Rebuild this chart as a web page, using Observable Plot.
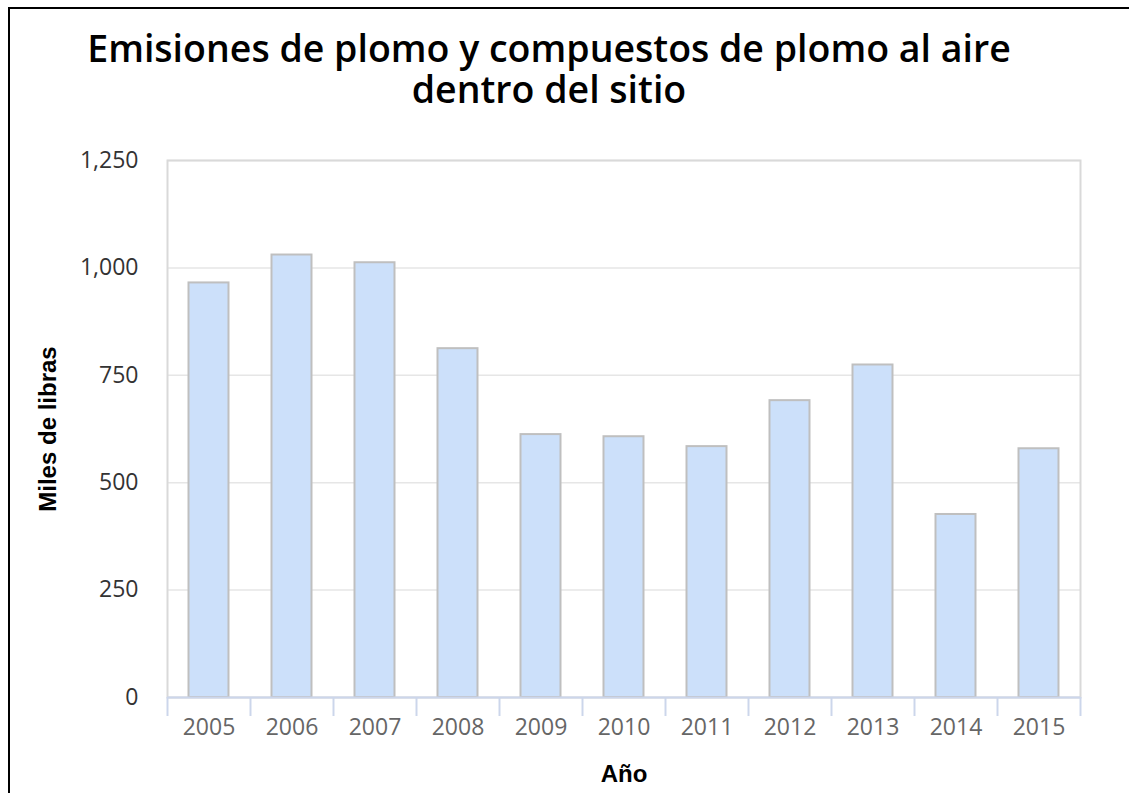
<!DOCTYPE html>
<html>
<head>
<meta charset="utf-8">
<script src="https://cdn.jsdelivr.net/npm/d3@7"></script>
<script src="https://cdn.jsdelivr.net/npm/@observablehq/plot@0.6"></script>
<style>
  html, body { margin: 0; padding: 0; background: #fff; }
  #wrap { position: relative; width: 1129px; height: 793px; overflow: hidden; }
  #border { position: absolute; left: 8px; top: 7px; right: -10px; bottom: -10px;
            border-left: 2px solid #000; border-top: 2px solid #000; }
  .title { position: absolute; left: 0; width: 1098px; text-align: center;
           font-family: "Open Sans", sans-serif; font-weight: 600; font-size: 37.5px;
           line-height: 40px; height: 40px; color: #000; white-space: nowrap; }
  #chart { position: absolute; left: 0; top: 0; }
</style>
</head>
<body>
<div id="wrap">
  <div id="chart"></div>
  <div id="border"></div>
  <div class="title" style="top:28px">Emisiones de plomo y compuestos de plomo al aire</div>
  <div class="title" style="top:69px">dentro del sitio</div>
</div>
<script>
const years = ["2005","2006","2007","2008","2009","2010","2011","2012","2013","2014","2015"];
const values = [965, 1030, 1012, 812, 612, 607, 584, 691, 774, 426, 579];
const yTicks = [0, 250, 500, 750, 1000, 1250];
const xLabel = "Año";
const yLabel = "Miles de libras";

const data = years.map((y, i) => ({year: y, value: values[i]}));

const W = 1129, H = 793;
const mL = 167, mR = 49, mT = 160, mB = 96;
const plotW = W - mL - mR, plotH = H - mT - mB;
const step = plotW / years.length;
const barInset = (step - 40) / 2;

const chart = Plot.plot({
  width: W, height: H,
  marginLeft: mL, marginRight: mR, marginTop: mT, marginBottom: mB,
  style: {fontFamily: "'Open Sans', sans-serif", background: "transparent"},
  x: {domain: years, padding: 0},
  y: {domain: [0, 1250]},
  marks: [
    Plot.gridY(yTicks, {stroke: "#e6e6e6", strokeOpacity: 1, strokeWidth: 1.5}),
    Plot.frame({stroke: "#d9d9d9", strokeWidth: 2}),
    Plot.barY(data, {x: "year", y: "value", fill: "#cce0fa", stroke: "#bfbfbf", strokeWidth: 2,
      insetLeft: barInset, insetRight: barInset}),
    Plot.ruleY([0], {stroke: "#ccd6eb", strokeWidth: 2}),
    Plot.ruleX(years, {x: d => d, dx: -step / 2, stroke: "#ccd6eb", strokeWidth: 2,
      insetTop: plotH, insetBottom: -19}),
    Plot.ruleX(years.slice(-1), {x: d => d, dx: step / 2, stroke: "#ccd6eb", strokeWidth: 2,
      insetTop: plotH, insetBottom: -19}),
    Plot.axisY(yTicks, {tickSize: 0, tickPadding: 29, tickFormat: d3.format(","),
      fontSize: 23, fill: "#333", label: null}),
    Plot.axisX({tickSize: 0, tickPadding: 21, fontSize: 23, fill: "#666", label: null}),
    Plot.text([xLabel], {frameAnchor: "bottom", dy: 84, fontSize: 24, fontWeight: "bold",
      fill: "#000", fontFamily: "'Liberation Sans', Arial, sans-serif"}),
    Plot.text([yLabel], {frameAnchor: "left", textAnchor: "middle", dx: -119, rotate: -90, fontSize: 24, fontWeight: "bold",
      fill: "#000", fontFamily: "'Liberation Sans', Arial, sans-serif"})
  ]
});
document.getElementById("chart").appendChild(chart);
</script>
</body>
</html>
